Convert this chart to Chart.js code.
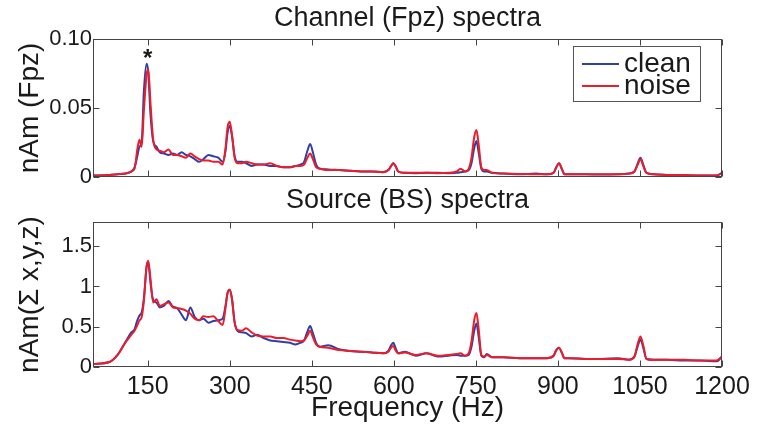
<!DOCTYPE html>
<html>
<head>
<meta charset="utf-8">
<script src="https://cdn.jsdelivr.net/npm/chart.js@4.4.1/dist/chart.umd.min.js"></script>
<style>
  html, body { margin: 0; padding: 0; background: #fff; }
  #wrap { position: relative; width: 762px; height: 436px; }
  #wrap canvas { position: absolute; left: 0; top: 0; }
</style>
</head>
<body>
<div id="wrap">
  <canvas id="chTop" width="762" height="436"></canvas>
  <canvas id="chBottom" width="762" height="436"></canvas>
</div>
<script>
// frequency grid (Hz), shared by both panels
const freq = [
  50, 80, 95, 110, 120, 126, 131, 135, 139, 143,
  148, 151, 155, 160, 166, 172, 180, 188, 196, 204,
  212, 220, 228, 236, 244, 252, 261, 270, 279, 287,
  292, 296, 300, 304, 309, 314, 322, 330, 340, 350,
  362, 374, 386, 398, 410, 420, 429, 436, 442, 447,
  452, 458, 465, 480, 500, 520, 540, 560, 580, 590,
  595, 599, 603, 608, 620, 640, 660, 680, 700, 715,
  722, 730, 737, 742, 747, 751, 755, 760, 765, 770,
  780, 800, 830, 860, 880, 892, 897, 902, 907, 912,
  920, 950, 980, 1010, 1030, 1040, 1046, 1051, 1056, 1062,
  1075, 1100, 1130, 1160, 1190, 1200
];

// Channel (Fpz) spectra
const fpzClean = [
  0.001, 0.0015, 0.002, 0.0025, 0.004, 0.007, 0.015, 0.022, 0.025, 0.062,
  0.082, 0.076, 0.046, 0.026, 0.022, 0.018, 0.017, 0.016, 0.017, 0.016,
  0.018, 0.016, 0.015, 0.013, 0.011, 0.013, 0.016, 0.015, 0.014, 0.011,
  0.018, 0.032, 0.037, 0.030, 0.015, 0.011, 0.011, 0.010, 0.008, 0.009,
  0.009, 0.008, 0.008, 0.007, 0.007, 0.008, 0.009, 0.011, 0.019, 0.024,
  0.018, 0.009, 0.006, 0.0055, 0.005, 0.0045, 0.004, 0.004, 0.0035, 0.005,
  0.008, 0.010, 0.008, 0.004, 0.003, 0.0028, 0.003, 0.003, 0.0028, 0.003,
  0.0035, 0.004, 0.005, 0.010, 0.021, 0.026, 0.018, 0.006, 0.004, 0.004,
  0.003, 0.0025, 0.002, 0.0025, 0.002, 0.003, 0.007, 0.010, 0.006, 0.002,
  0.002, 0.002, 0.0018, 0.002, 0.0025, 0.004, 0.010, 0.014, 0.009, 0.003,
  0.002, 0.0015, 0.0012, 0.001, 0.001, 0.003
];
const fpzNoise = [
  0.001, 0.0015, 0.002, 0.0025, 0.004, 0.006, 0.020, 0.027, 0.022, 0.048,
  0.074, 0.078, 0.054, 0.027, 0.020, 0.019, 0.018, 0.020, 0.016, 0.016,
  0.015, 0.014, 0.017, 0.015, 0.013, 0.012, 0.012, 0.011, 0.011, 0.009,
  0.020, 0.036, 0.040, 0.031, 0.014, 0.010, 0.010, 0.011, 0.010, 0.009,
  0.009, 0.010, 0.008, 0.007, 0.007, 0.008, 0.008, 0.009, 0.014, 0.017,
  0.013, 0.007, 0.006, 0.005, 0.005, 0.0045, 0.004, 0.004, 0.0035, 0.005,
  0.008, 0.010, 0.008, 0.004, 0.003, 0.003, 0.003, 0.0028, 0.003, 0.004,
  0.006, 0.004, 0.006, 0.014, 0.029, 0.034, 0.024, 0.007, 0.005, 0.005,
  0.003, 0.0025, 0.0022, 0.002, 0.002, 0.003, 0.007, 0.010, 0.006, 0.002,
  0.002, 0.002, 0.002, 0.002, 0.0025, 0.004, 0.009, 0.013, 0.008, 0.003,
  0.002, 0.0015, 0.0015, 0.001, 0.001, 0.003
];

// Source (BS) spectra
const bsClean = [
  0.037, 0.062, 0.15, 0.32, 0.43, 0.47, 0.58, 0.64, 0.68, 0.85,
  1.25, 1.30, 1.05, 0.83, 0.80, 0.74, 0.76, 0.82, 0.75, 0.73,
  0.65, 0.58, 0.74, 0.62, 0.58, 0.60, 0.55, 0.57, 0.58, 0.60,
  0.75, 0.92, 0.96, 0.85, 0.55, 0.45, 0.43, 0.42, 0.38, 0.40,
  0.36, 0.33, 0.32, 0.31, 0.30, 0.28, 0.30, 0.33, 0.44, 0.51,
  0.42, 0.30, 0.25, 0.27, 0.22, 0.20, 0.19, 0.18, 0.17, 0.20,
  0.27, 0.30, 0.24, 0.17, 0.19, 0.14, 0.17, 0.13, 0.14, 0.15,
  0.14, 0.14, 0.15, 0.25, 0.45, 0.54, 0.38, 0.14, 0.12, 0.16,
  0.12, 0.12, 0.11, 0.11, 0.11, 0.14, 0.21, 0.24, 0.18, 0.11,
  0.11, 0.10, 0.10, 0.11, 0.09, 0.13, 0.26, 0.34, 0.24, 0.10,
  0.09, 0.09, 0.08, 0.08, 0.07, 0.13
];
const bsNoise = [
  0.037, 0.062, 0.15, 0.31, 0.40, 0.45, 0.52, 0.58, 0.62, 0.82,
  1.25, 1.32, 1.10, 0.80, 0.84, 0.76, 0.78, 0.80, 0.74, 0.73,
  0.72, 0.70, 0.66, 0.60, 0.58, 0.63, 0.62, 0.63, 0.57, 0.52,
  0.72, 0.92, 0.96, 0.85, 0.55, 0.46, 0.45, 0.48, 0.43, 0.39,
  0.38, 0.38, 0.36, 0.36, 0.34, 0.33, 0.32, 0.33, 0.39, 0.45,
  0.37, 0.28, 0.25, 0.24, 0.21, 0.20, 0.19, 0.18, 0.17, 0.19,
  0.24, 0.26, 0.21, 0.17, 0.18, 0.15, 0.17, 0.14, 0.15, 0.16,
  0.17, 0.14, 0.17, 0.32, 0.58, 0.67, 0.48, 0.15, 0.13, 0.15,
  0.12, 0.12, 0.11, 0.11, 0.11, 0.14, 0.21, 0.24, 0.18, 0.11,
  0.11, 0.10, 0.10, 0.10, 0.09, 0.13, 0.29, 0.38, 0.27, 0.10,
  0.09, 0.09, 0.09, 0.08, 0.08, 0.13
];

// ticks
const xTicks = [150, 300, 450, 600, 750, 900, 1050, 1200];
const xLabels = ['150', '300', '450', '600', '750', '900', '1050', '1200'];
const yTicksTop = [0, 0.05, 0.1];
const yLabelsTop = ['0', '0.05', '0.10'];
const yTicksBottom = [0, 0.5, 1, 1.5];
const yLabelsBottom = ['0', '0.5', '1', '1.5'];

// marker above the 150 Hz peak
const starFreq = 150;
const starValue = 0.089;

const FONT = "'Liberation Sans', Arial, Helvetica, sans-serif";
const BLUE = '#2f3fa8';
const RED = '#ec1c2a';
const INK = '#1a1a1a';

Chart.defaults.font.family = FONT;
Chart.defaults.color = INK;

function pts(arr) {
  return freq.map((f, i) => ({ x: f, y: arr[i] }));
}

function series(clean, noise) {
  return [{
    label: 'clean', data: pts(clean), borderColor: BLUE, borderWidth: 2,
    pointRadius: 0, cubicInterpolationMode: 'monotone', order: 1
  }, {
    label: 'noise', data: pts(noise), borderColor: RED, borderWidth: 2,
    pointRadius: 0, cubicInterpolationMode: 'monotone', order: 0
  }];
}

// matlab-like box with inward ticks, plus titles / legend / star
const framePlugin = {
  id: 'frame',
  afterDatasetsDraw(chart, args, opts) {
    const { ctx, chartArea: a } = chart;
    const x = chart.scales.x, y = chart.scales.y;
    const L = Math.round(a.left) + 0.5, R = Math.round(a.right) - 0.5;
    const T = Math.round(a.top) + 0.5, B = Math.round(a.bottom) - 0.5;
    ctx.save();
    ctx.strokeStyle = '#444';
    ctx.lineWidth = 1;
    ctx.strokeRect(L, T, R - L, B - T);
    ctx.beginPath();
    xTicks.forEach(v => {
      const px = Math.round(x.getPixelForValue(v)) + 0.5;
      ctx.moveTo(px, B); ctx.lineTo(px, B - 6);
      ctx.moveTo(px, T); ctx.lineTo(px, T + 6);
    });
    y.ticks.forEach(t => {
      const py = Math.round(y.getPixelForValue(t.value)) + 0.5;
      ctx.moveTo(L, py); ctx.lineTo(L + 6, py);
      ctx.moveTo(R, py); ctx.lineTo(R - 6, py);
    });
    ctx.stroke();

    // panel title
    ctx.fillStyle = INK;
    ctx.textAlign = 'center';
    ctx.textBaseline = 'middle';
    ctx.font = '27px ' + FONT;
    ctx.fillText(opts.title, (a.left + a.right) / 2, opts.titleY);

    if (opts.star) {
      ctx.font = 'bold 24px ' + FONT;
      ctx.fillText('*', x.getPixelForValue(starFreq), y.getPixelForValue(starValue) + 5);
    }

    if (opts.legend) {
      const bx = 573, by = 46, bw = 127, bh = 55;
      ctx.fillStyle = '#fff';
      ctx.fillRect(bx, by, bw, bh);
      ctx.strokeStyle = '#555';
      ctx.strokeRect(bx + 0.5, by + 0.5, bw, bh);
      ctx.font = '28px ' + FONT;
      ctx.textAlign = 'left';
      chart.data.datasets.forEach((ds, i) => {
        const ly = by + 18 + i * 22;
        ctx.strokeStyle = ds.borderColor;
        ctx.lineWidth = 2;
        ctx.beginPath();
        ctx.moveTo(bx + 9, ly); ctx.lineTo(bx + 46, ly);
        ctx.stroke();
        ctx.fillStyle = INK;
        ctx.fillText(ds.label, bx + 51, ly);
      });
    }
    ctx.restore();
  }
};

function yAxis(ticks, labels, min, max, title) {
  return {
    type: 'linear', min: min, max: max,
    afterBuildTicks: s => { s.ticks = ticks.map(v => ({ value: v })); },
    afterFit: s => { s.width = 93; },
    grid: { display: false, drawTicks: false, tickLength: 0 }, border: { display: false },
    ticks: { padding: 1, font: { size: 22 }, color: INK, callback: (v, i) => labels[i] },
    title: { display: true, text: title, font: { size: 28 }, color: INK, padding: { top: 13, bottom: 0 } }
  };
}

// top: Channel (Fpz) spectra
new Chart(document.getElementById('chTop'), {
  type: 'line',
  data: { datasets: series(fpzClean, fpzNoise) },
  options: {
    responsive: false, animation: false,
    layout: { padding: { top: 39, right: 40, bottom: 259, left: 0 } },
    plugins: {
      legend: { display: false }, tooltip: { enabled: false },
      frame: { title: 'Channel (Fpz) spectra', titleY: 19, star: true, legend: true }
    },
    scales: {
      x: { type: 'linear', min: 50, max: 1200, display: false },
      y: yAxis(yTicksTop, yLabelsTop, 0, 0.1, 'nAm (Fpz)')
    }
  },
  plugins: [framePlugin]
});

// bottom: Source (BS) spectra
new Chart(document.getElementById('chBottom'), {
  type: 'line',
  data: { datasets: series(bsClean, bsNoise) },
  options: {
    responsive: false, animation: false,
    layout: { padding: { top: 222, right: 40, bottom: 0, left: 0 } },
    plugins: {
      legend: { display: false }, tooltip: { enabled: false },
      frame: { title: 'Source (BS) spectra', titleY: 201 }
    },
    scales: {
      x: {
        type: 'linear', min: 50, max: 1200,
        afterBuildTicks: s => { s.ticks = xTicks.map(v => ({ value: v })); },
        afterFit: s => { s.height = 69; },
        grid: { display: false, drawTicks: false, tickLength: 0 }, border: { display: false },
        ticks: { padding: 5, font: { size: 25 }, color: INK, maxRotation: 0, autoSkip: false,
          callback: (v, i) => xLabels[i] },
        title: { display: true, text: 'Frequency (Hz)', font: { size: 28 }, color: INK, padding: { top: 0, bottom: 11 } }
      },
      y: yAxis(yTicksBottom, yLabelsBottom, 0, 1.8, 'nAm(\u03a3 x,y,z)')
    }
  },
  plugins: [framePlugin]
});
</script>
</body>
</html>
